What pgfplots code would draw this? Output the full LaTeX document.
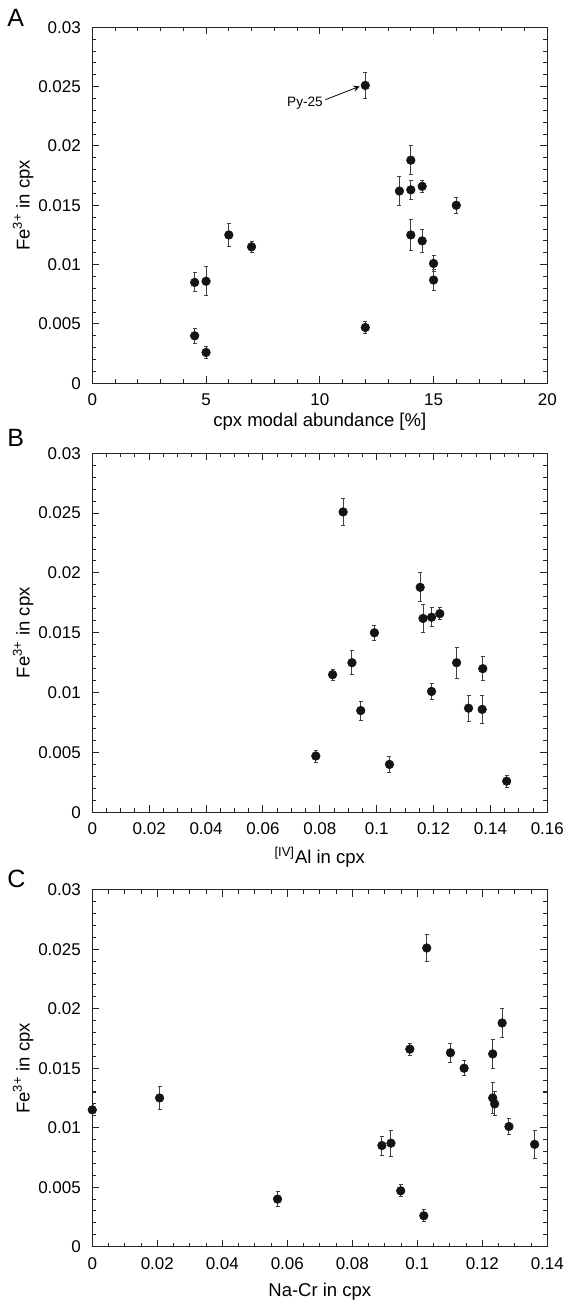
\documentclass[border=0pt]{standalone}
\usepackage{fontspec}
\setmainfont{Liberation Sans}
\usepackage{pgfplots}
\pgfplotsset{compat=1.18}
\usepackage{pgfplotstable}

\pgfplotstableread{
x y ey
4.5 0.0085 0.0008
5 0.0086 0.0012
4.5 0.0040 0.00065
5 0.0026 0.0005
6 0.0125 0.0010
7 0.0115 0.00045
12 0.0047 0.0005
12 0.0251 0.0011
13.5 0.0162 0.0012
14 0.0188 0.0012
14 0.0163 0.0008
14.5 0.0166 0.0005
16 0.0150 0.00065
14 0.0125 0.0013
14.5 0.0120 0.0010
15 0.0101 0.0007
15 0.0087 0.00085
}\dataA

\pgfplotstableread{
x y ey
0.0882 0.0251 0.0011
0.1153 0.0188 0.0012
0.1163 0.0162 0.0012
0.1193 0.0163 0.0008
0.1222 0.0166 0.0005
0.0992 0.0150 0.00065
0.0913 0.0125 0.0010
0.0845 0.0115 0.00045
0.0944 0.0085 0.0008
0.0786 0.0047 0.0005
0.1045 0.0040 0.00065
0.1193 0.0101 0.0007
0.1281 0.0125 0.0013
0.1373 0.0120 0.0010
0.1323 0.0087 0.0011
0.1371 0.0086 0.0012
0.1457 0.0026 0.0005
}\dataB

\pgfplotstableread{
x y ey
0 0.0115 0.00045
0.0207 0.0125 0.0010
0.0570 0.0040 0.00065
0.0891 0.0085 0.0008
0.0919 0.0087 0.0011
0.0949 0.0047 0.0005
0.1020 0.0026 0.0005
0.0977 0.0166 0.0005
0.1029 0.0251 0.0011
0.1102 0.0163 0.0008
0.1144 0.0150 0.00065
0.1232 0.0162 0.0012
0.1261 0.0188 0.0012
0.1232 0.0125 0.0013
0.1238 0.0120 0.0010
0.1282 0.0101 0.0007
0.1361 0.0086 0.0012
}\dataC

\pgfplotsset{
  myaxis/.style={
    scale only axis,
    width=227.5pt,
    ymin=0, ymax=0.03,
    ytick={0,0.005,0.01,0.015,0.02,0.025,0.03},
    minor y tick num=4,
    scaled ticks=false,
    /pgf/number format/assume math mode=true,
    tick label style={font=\fontsize{8.5}{10}\selectfont},
    yticklabel style={/pgf/number format/fixed, /pgf/number format/precision=3, xshift=-2.2pt},
    xticklabel style={/pgf/number format/fixed, /pgf/number format/precision=2, yshift=-1.7pt},
    major tick length=3.5pt,
    minor tick length=2pt,
    tick align=inside,
    tick pos=both,
    axis line style={line width=0.5pt, black!85},
    every tick/.style={line width=0.5pt, black!85},
    label style={font=\fontsize{9.25}{11}\selectfont},
    ylabel={Fe\textsuperscript{3+} in cpx},
    ylabel style={at={(axis description cs:-0.138,0.5)}, anchor=base},
    xlabel style={at={(axis description cs:0.5,0)}, anchor=base},
  },
  mydata/.style={
    only marks, mark=*, mark size=2.15pt,
    mark options={fill=black!92, draw=black!92, line width=0.3pt},
    error bars/.cd, y dir=both, y explicit,
    error bar style={line width=0.5pt, black!75},
    error mark options={rotate=90, mark size=1pt, line width=0.5pt, black!75},
  },
}

\begin{document}
\begin{tikzpicture}
\path[use as bounding box] (0,0) rectangle (282.5pt,650pt);

% Panel A
\begin{axis}[myaxis,
  at={(46.15pt,458.35pt)}, anchor=south west,
  height=178pt,
  xmin=0, xmax=20, xtick={0,5,10,15,20}, minor x tick num=4,
  xlabel={cpx modal abundance [\%]},
  xlabel style={yshift=-21.7pt},
]
\addplot+[mydata] table[x=x, y=y, y error=ey] {\dataA};
\draw[-stealth, line width=0.4pt] (axis cs:10.25,0.0239) -- (axis cs:11.75,0.02502);
\node[font=\fontsize{6.8}{8}\selectfont] at (axis cs:9.35,0.0236) {Py-25};
\end{axis}

% Panel B
\begin{axis}[myaxis,
  at={(46.15pt,243.85pt)}, anchor=south west,
  height=179.5pt,
  xmin=0, xmax=0.16, xtick={0,0.02,0.04,0.06,0.08,0.1,0.12,0.14,0.16}, minor x tick num=3,
  xlabel={\textsuperscript{[IV]}Al in cpx},
  xlabel style={yshift=-25.8pt},
]
\addplot+[mydata] table[x=x, y=y, y error=ey] {\dataB};
\end{axis}

% Panel C
\begin{axis}[myaxis,
  at={(46.15pt,26.65pt)}, anchor=south west,
  height=178.5pt,
  xmin=0, xmax=0.14, xtick={0,0.02,0.04,0.06,0.08,0.1,0.12,0.14}, minor x tick num=3,
  xlabel={Na-Cr in cpx},
  xlabel style={yshift=-24.7pt},
]
\addplot+[mydata] table[x=x, y=y, y error=ey] {\dataC};
\end{axis}

\node[anchor=base west, inner sep=0pt, font=\fontsize{12.5}{15}\selectfont] at (3.5pt,636.5pt) {A};
\node[anchor=base west, inner sep=0pt, font=\fontsize{12.5}{15}\selectfont] at (3.5pt,426.5pt) {B};
\node[anchor=base west, inner sep=0pt, font=\fontsize{12.5}{15}\selectfont] at (3.5pt,206pt) {C};
\end{tikzpicture}
\end{document}
